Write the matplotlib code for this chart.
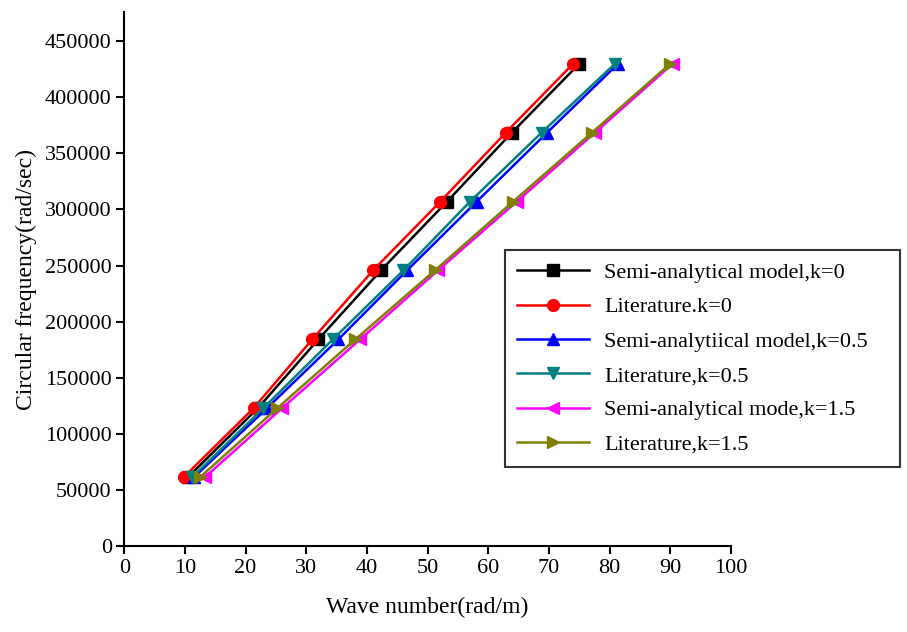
import matplotlib
matplotlib.use('Agg')
import matplotlib.pyplot as plt

plt.rcParams['font.family'] = ['Liberation Serif', 'DejaVu Serif']

# Circular frequency (rad/sec), shared by all series
freq = [61400, 122800, 184300, 245700, 307100, 368600, 430000]

# Wave number (rad/m) for each series
semi_k0 = [10.5, 22.0, 32.0, 42.3, 53.2, 63.9, 75.0]
lit_k0 = [9.8, 21.3, 31.0, 41.0, 52.1, 62.9, 74.0]
semi_k05 = [11.5, 23.5, 35.3, 46.6, 58.1, 69.7, 81.4]
lit_k05 = [11.2, 22.9, 34.4, 46.0, 57.0, 68.8, 80.9]
semi_k15 = [13.3, 26.0, 38.9, 51.7, 64.7, 77.6, 90.4]
lit_k15 = [12.5, 25.2, 38.1, 51.2, 64.1, 77.1, 90.0]

labels = ['Semi-analytical model,k=0', 'Literature.k=0',
          'Semi-analytiical model,k=0.5', 'Literature,k=0.5',
          'Semi-analytical mode,k=1.5', 'Literature,k=1.5']

series = [semi_k0, lit_k0, semi_k05, lit_k05, semi_k15, lit_k15]
colors = ['black', 'red', 'blue', '#008080', 'magenta', '#808000']
markers = ['s', 'o', '^', 'v', '<', '>']

fig = plt.figure(figsize=(9.07, 6.32), dpi=100)
ax = fig.add_axes([0.137, 0.136, 0.669, 0.845])

for xs, lab, c, m in zip(series, labels, colors, markers):
    ax.plot(xs, freq, color=c, marker=m, markersize=8.5, linewidth=1.8,
            markeredgecolor=c, label=lab)

ax.set_xlim(0, 100)
ax.set_ylim(0, 476000)
ax.set_xticks(range(0, 101, 10))
ax.set_yticks(range(0, 450001, 50000))
ax.spines['top'].set_visible(False)
ax.spines['right'].set_visible(False)
ax.spines['left'].set_linewidth(1.5)
ax.spines['bottom'].set_linewidth(1.5)
ax.tick_params(direction='out', length=6, width=1.5, labelsize=16, pad=3)

ax.set_xlabel('Wave number(rad/m)', fontsize=17, labelpad=14)
ax.set_ylabel('Circular frequency(rad/sec)', fontsize=17, labelpad=6)

leg = fig.legend(loc='upper left', bbox_to_anchor=(0.557, 0.604, 0.435, 0),
                 mode='expand', borderaxespad=0, fontsize=16,
                 frameon=True, fancybox=False, edgecolor='black',
                 handlelength=3.2, labelspacing=0.62, borderpad=0.55,
                 handletextpad=0.7)
leg.get_frame().set_linewidth(1.5)

fig.savefig('out.png', dpi=100)
